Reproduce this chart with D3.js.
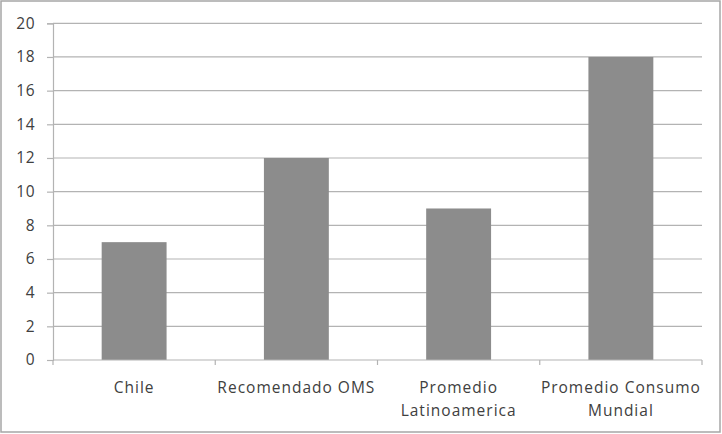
<!DOCTYPE html>
<html><head><meta charset="utf-8">
<script src="https://cdn.jsdelivr.net/npm/d3@7"></script>
<style>body{margin:0;background:#fff}svg{display:block}</style>
</head><body><svg id="c" width="722" height="434"></svg>
<script>
const categories = [["Chile"], ["Recomendado OMS"], ["Promedio", "Latinoamerica"], ["Promedio Consumo", "Mundial"]];
const values = [7, 12, 9, 18];
const yTicks = [0, 2, 4, 6, 8, 10, 12, 14, 16, 18, 20];

(function() {
const svg = d3.select("#c");
svg.append("rect").attr("x", 1).attr("y", 1).attr("width", 719).attr("height", 431)
  .attr("fill", "#fff").attr("stroke", "#a6a6a6").attr("stroke-width", 1.5);

const pLeft = 53, pRight = 702, pTop = 23.3, pBottom = 360;
const x = d3.scaleBand().domain(d3.range(categories.length)).range([pLeft, pRight]).paddingInner(0.6).paddingOuter(0.3);
const xb = d3.scaleBand().domain(d3.range(categories.length)).range([pLeft, pRight]);
const y = d3.scaleLinear().domain([0, 20]).range([pBottom, pTop]);

svg.append("g").selectAll("line").data(yTicks.filter(d => d > 0)).join("line")
  .attr("x1", pLeft).attr("x2", pRight).attr("y1", d => y(d)).attr("y2", d => y(d))
  .attr("stroke", "#b3b3b3").attr("stroke-width", 1.2);

const ya = svg.append("g").attr("transform", `translate(${pLeft},0)`)
  .call(d3.axisLeft(y).tickValues(yTicks).tickSize(6).tickPadding(12));
ya.select(".domain").attr("stroke", "#b3b3b3").attr("stroke-width", 1.2);
ya.selectAll(".tick line").attr("stroke", "#b3b3b3").attr("stroke-width", 1.2);
ya.selectAll("text").attr("fill", "#404040").attr("font-family", "Open Sans, sans-serif")
  .attr("font-size", 15.5).attr("letter-spacing", 0.5);

svg.append("g").selectAll("rect").data(values).join("rect")
  .attr("x", (d, i) => x(i)).attr("width", x.bandwidth())
  .attr("y", d => y(d)).attr("height", d => pBottom - y(d))
  .attr("fill", "#8c8c8c");

svg.append("line").attr("x1", pLeft).attr("x2", pRight).attr("y1", pBottom).attr("y2", pBottom)
  .attr("stroke", "#b3b3b3").attr("stroke-width", 1.2);
const bounds = d3.range(categories.length + 1).map(i => i < categories.length ? xb(i) : pRight);
svg.append("g").selectAll("line").data(bounds).join("line")
  .attr("x1", d => d).attr("x2", d => d).attr("y1", pBottom).attr("y2", pBottom + 5)
  .attr("stroke", "#b3b3b3").attr("stroke-width", 1.2);

const lab = svg.append("g").selectAll("text").data(categories).join("text")
  .attr("text-anchor", "middle").attr("fill", "#404040")
  .attr("font-family", "Open Sans, sans-serif").attr("font-size", 15.5)
  .attr("letter-spacing", 1);
lab.each(function(lines, i) {
  const t = d3.select(this);
  lines.forEach((s, j) => {
    t.append("tspan").attr("x", xb(i) + xb.bandwidth() / 2).attr("y", 393 + j * 23).text(s);
  });
});
})();
</script></body></html>
